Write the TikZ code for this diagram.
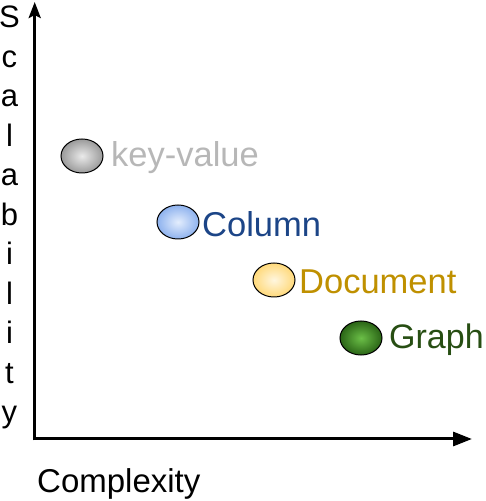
\documentclass[tikz,border=0pt]{standalone}
\usepackage{fontspec}
\setmainfont{Liberation Sans}
\usetikzlibrary{arrows.meta,shapes.geometric,calc}
\definecolor{kvtext}{HTML}{B7B7B7}
\definecolor{kvin}{HTML}{EAEAEA}
\definecolor{kvout}{HTML}{9A9A9A}
\definecolor{coltext}{HTML}{1C4587}
\definecolor{colin}{HTML}{E3EDFD}
\definecolor{colout}{HTML}{8EB2EE}
\definecolor{doctext}{HTML}{BF9000}
\definecolor{docin}{HTML}{FFF6DF}
\definecolor{docout}{HTML}{FFD97A}
\definecolor{grtext}{HTML}{274E13}
\definecolor{grin}{HTML}{6BBF47}
\definecolor{grout}{HTML}{2A6416}
\begin{document}
\begin{tikzpicture}[x=1pt,y=1pt,
  blob/.style={ellipse,draw=black,line width=1pt,minimum width=42pt,minimum height=34pt,inner sep=0pt},
  lab/.style={anchor=west,font=\fontsize{34.5}{34.5}\selectfont,inner sep=0pt},
  axis/.style={line width=3pt},
  vletter/.style={font=\fontsize{31}{31}\selectfont,anchor=base,inner sep=0pt}]
\useasboundingbox (0,0) rectangle (485,501);
\coordinate (O) at (34.7,62);
\coordinate (Obot) at (34.7,60.5);
\coordinate (Oleft) at (33.2,62);
\coordinate (Ytop) at (34.7,499);
\coordinate (Xend) at (472,62);
\draw[axis,-{Stealth[length=16pt,width=12pt,inset=3pt]}] (Obot) -- (Ytop);
\draw[axis,-{Triangle[length=19pt,width=14pt]}] (Oleft) -- (Xend);
\node[blob,shading=radial,inner color=kvin,outer color=kvout] (kv) at (82,345) {};
\node[lab,text=kvtext] (kvl) at (111,343) {key-value};
\node[blob,shading=radial,inner color=colin,outer color=colout] (col) at (178,279) {};
\node[lab,text=coltext] (coll) at (202,277) {Column};
\node[blob,shading=radial,inner color=docin,outer color=docout] (doc) at (274,221) {};
\node[lab,text=doctext] (docl) at (299,219) {Document};
\node[blob,shading=radial,inner color=grin,outer color=grout] (gr) at (361,163) {};
\node[lab,text=grtext,font=\fontsize{34}{34}\selectfont] (grl) at (389,161) {Graph};
\node[lab,anchor=base west,font=\fontsize{33}{33}\selectfont] (cx) at (37,9) {Complexity};
\foreach \ch [count=\i from 0] in {S,c,a,l,a,b,i,l,i,t,y}
  \node[vletter] (v\i) at (9.5,{501-28-\i*39.5}) {\ch};
\end{tikzpicture}
\end{document}
